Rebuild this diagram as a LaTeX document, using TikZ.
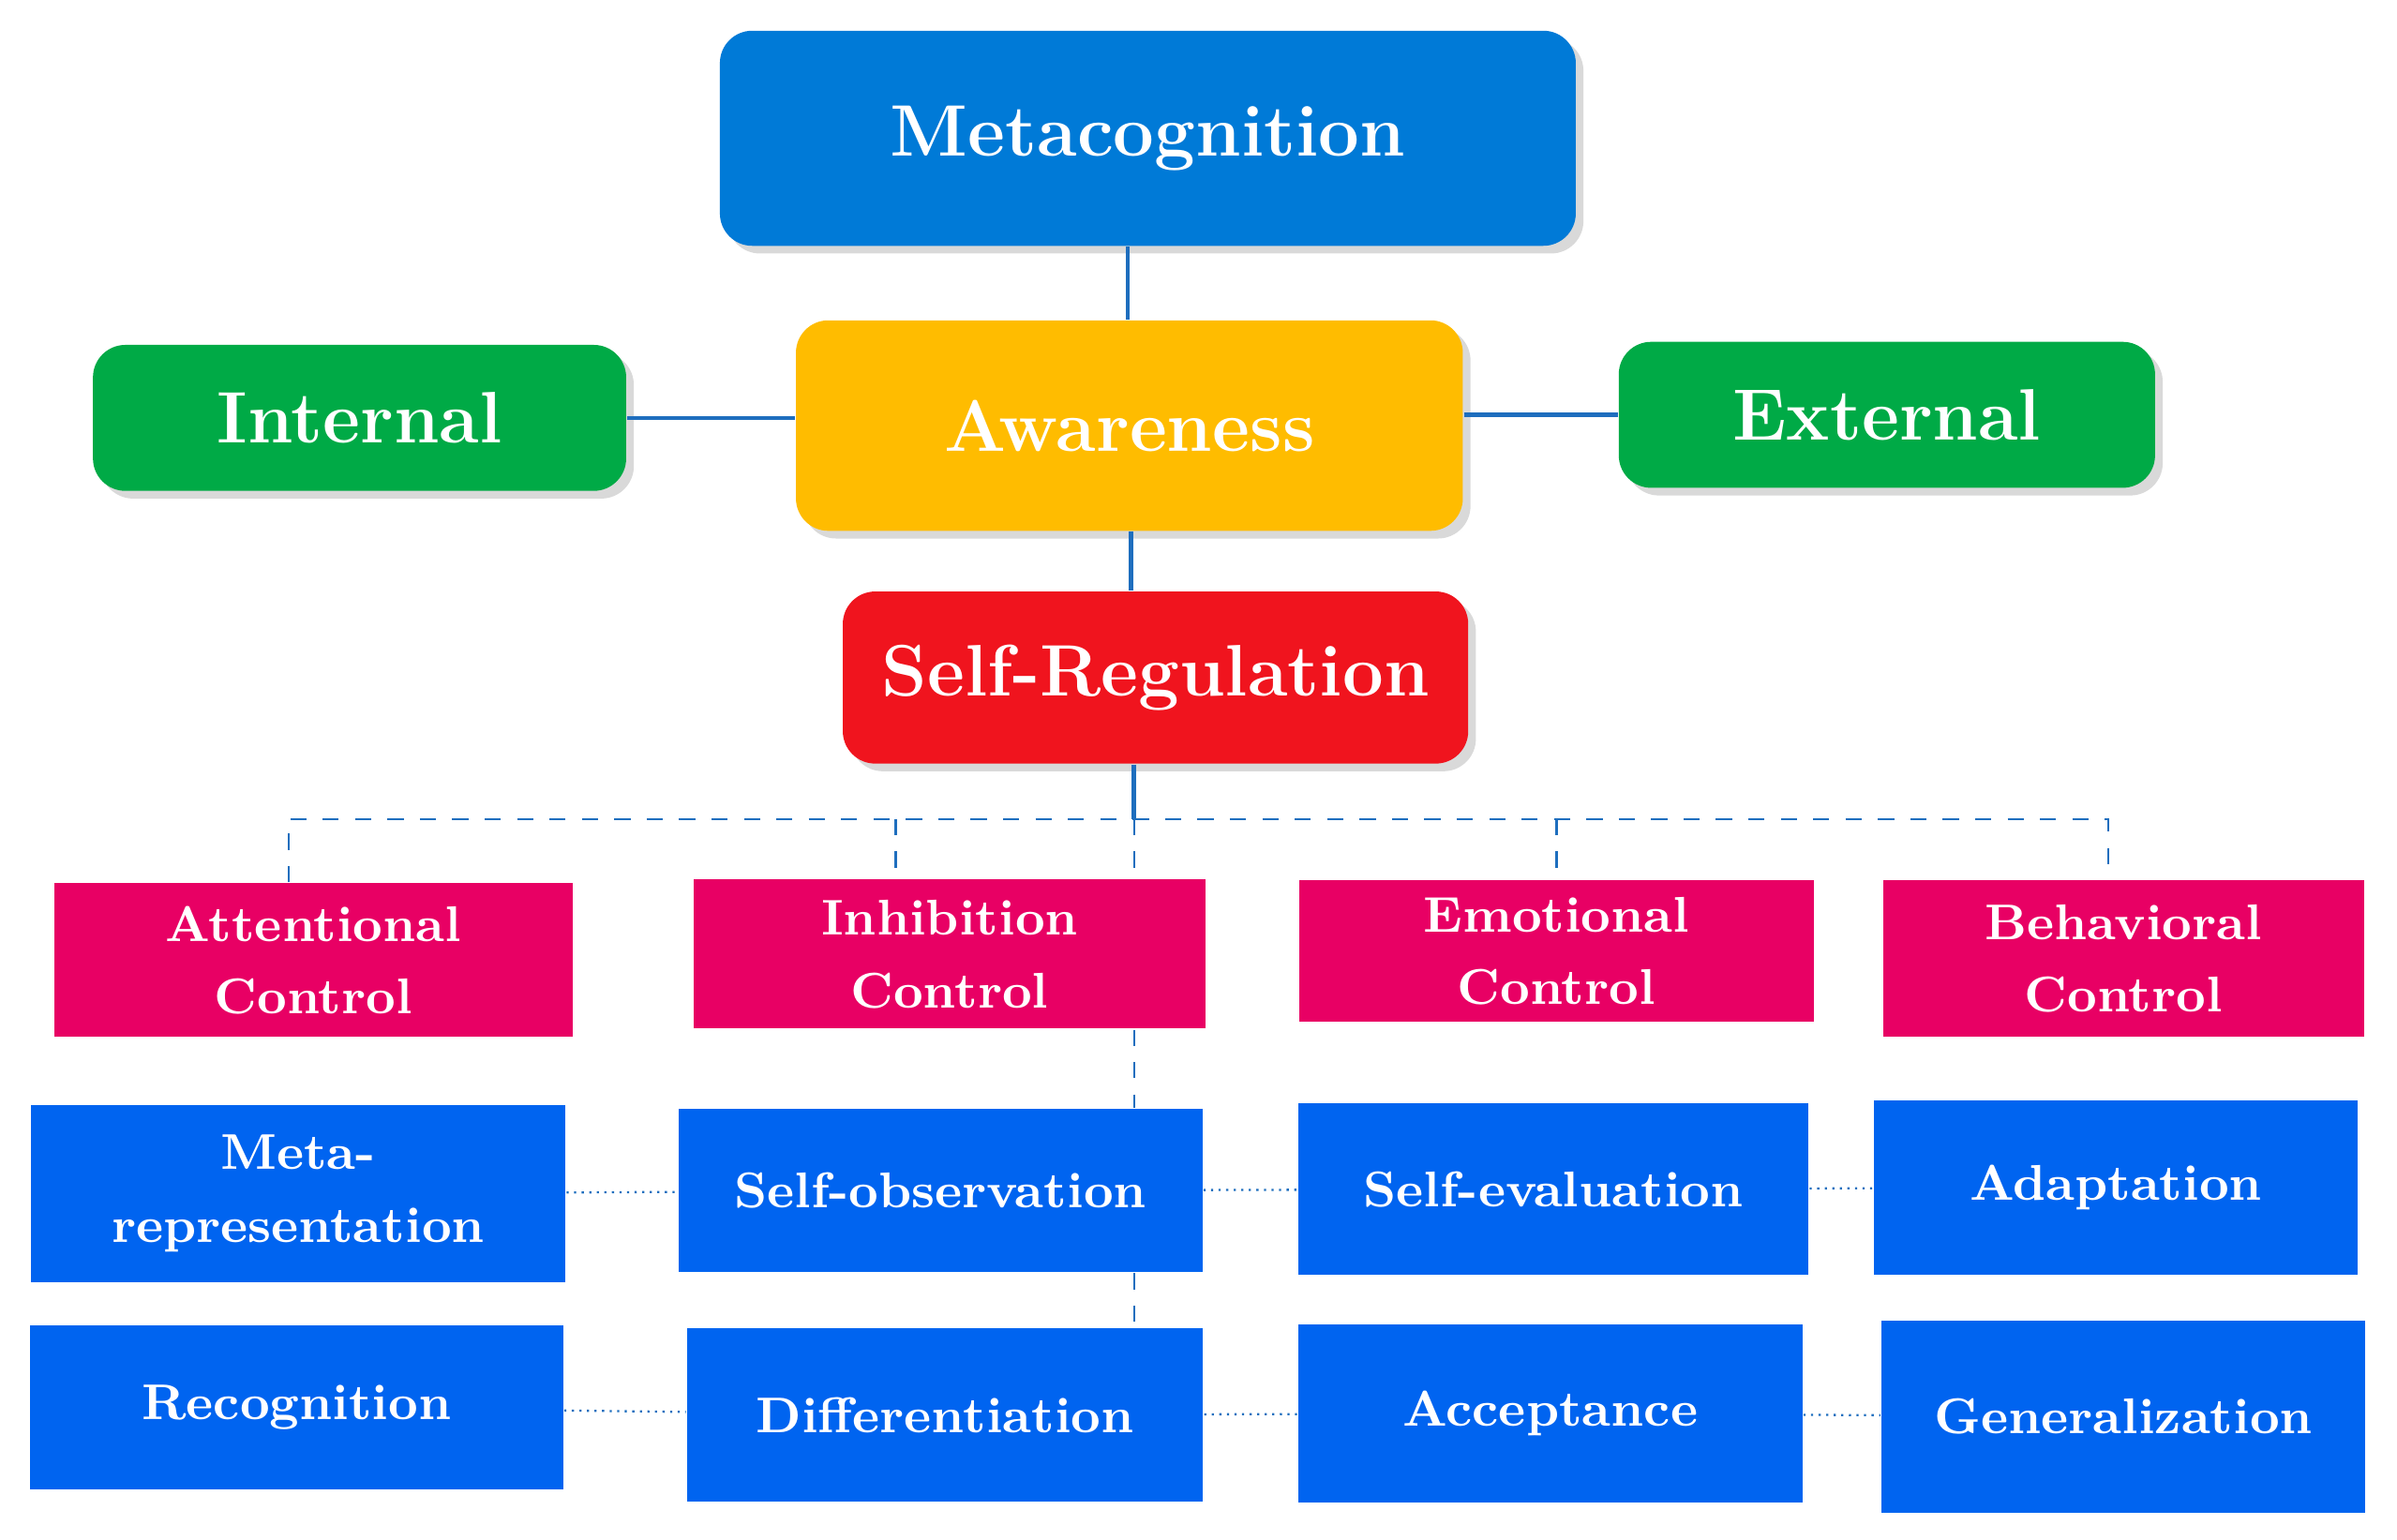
\documentclass[tikz,border=0pt]{standalone}
\usetikzlibrary{shadows}
\definecolor{metablue}{RGB}{0,122,215}
\definecolor{grn}{RGB}{0,170,70}
\definecolor{yel}{RGB}{255,188,0}
\definecolor{rd}{RGB}{240,20,30}
\definecolor{mag}{RGB}{232,0,100}
\definecolor{bl}{RGB}{0,100,240}
\definecolor{lnk}{RGB}{30,110,190}
\begin{document}
\begin{tikzpicture}[x=1cm,y=-1cm]
  \tikzset{box/.style = {draw=none, text=white, font=\bfseries, align=center, inner sep=0pt}}
  \tikzset{top/.style = {box, rounded corners=6pt, drop shadow={opacity=0.3, shadow xshift=0.5mm, shadow yshift=-0.5mm}}}
  \tikzset{ctl/.style = {box, fill=mag, font=\bfseries\fontsize{9.3}{13.5}\selectfont}}
  \tikzset{sub/.style = {box, fill=bl, font=\bfseries\fontsize{9.3}{13.5}\selectfont}}
  \tikzset{link/.style = {draw=lnk, thick}}
  \tikzset{treelink/.style = {draw=lnk, dashed}}
  \tikzset{rowlink/.style = {draw=lnk, densely dotted}}
  \useasboundingbox (0,0) rectangle (15.6,10.02);
  % upper boxes
  \node[top, fill=metablue, minimum width=5.57cm, minimum height=1.4cm, font=\bfseries\fontsize{13.5}{16}\selectfont] (meta) at (7.47,0.9) {Metacognition};
  \node[top, fill=yel, minimum width=4.34cm, minimum height=1.37cm, font=\bfseries\fontsize{13.5}{16}\selectfont] (aware) at (7.35,2.77) {Awareness};
  \node[top, fill=grn, minimum width=3.47cm, minimum height=0.95cm, font=\bfseries\fontsize{13.5}{16}\selectfont] (int) at (2.34,2.72) {Internal};
  \node[top, fill=grn, minimum width=3.49cm, minimum height=0.95cm, font=\bfseries\fontsize{13.5}{16}\selectfont] (ext) at (12.28,2.70) {External};
  \node[top, fill=rd, minimum width=4.07cm, minimum height=1.12cm, font=\bfseries\fontsize{13.5}{16}\selectfont] (self) at (7.52,4.41) {Self-Regulation};
  % control boxes
  \node[ctl, minimum width=3.37cm, minimum height=1.0cm] (att) at (2.04,6.25) {Attentional\\Control};
  \node[ctl, minimum width=3.33cm, minimum height=0.97cm] (inh) at (6.18,6.21) {Inhibition\\Control};
  \node[ctl, minimum width=3.35cm, minimum height=0.92cm] (emo) at (10.13,6.19) {Emotional\\Control};
  \node[ctl, minimum width=3.13cm, minimum height=1.02cm] (beh) at (13.82,6.24) {Behavioral\\Control};
  % sub boxes
  \node[sub, minimum width=3.48cm, minimum height=1.15cm] (mrep) at (1.94,7.77) {Meta-\\representation};
  \node[sub, minimum width=3.41cm, minimum height=1.06cm] (sobs) at (6.12,7.75) {Self-observation};
  \node[sub, minimum width=3.32cm, minimum height=1.12cm] (seval) at (10.11,7.74) {Self-evaluation};
  \node[sub, minimum width=3.15cm, minimum height=1.13cm] (adapt) at (13.77,7.73) {Adaptation};
  \node[sub, minimum width=3.47cm, minimum height=1.07cm] (recog) at (1.93,9.16) {Recognition};
  \node[sub, minimum width=3.36cm, minimum height=1.13cm] (diff) at (6.15,9.21) {Differentiation};
  \node[sub, minimum width=3.28cm, minimum height=1.16cm] (accept) at (10.09,9.20) {Acceptance};
  \node[sub, minimum width=3.15cm, minimum height=1.25cm] (gen) at (13.82,9.22) {Generalization};
  % solid links
  \draw[link] (meta.south -| 7.34,0) -- (aware.north -| 7.34,0);
  \draw[link] (int) -- (aware.west |- int);
  \draw[link] (aware.east |- ext) -- (ext);
  \draw[link] (aware.south -| 7.36,0) -- (self.north -| 7.36,0);
  \coordinate (hub) at (7.38,5.33);
  \draw[link] (self.south -| hub) -- (hub);
  % dashed tree
  \draw[treelink] (att.north -| 1.88,0) -- (1.88,5.33) -- (13.72,5.33) -- (beh.north -| 13.72,0);
  \draw[treelink] (5.83,5.33) -- (inh.north -| 5.83,0);
  \draw[treelink] (10.13,5.33) -- (emo.north);
  \draw[treelink] (hub) -- (inh.north -| hub);
  \draw[treelink] (inh.south -| hub) -- (sobs.north -| hub);
  \draw[treelink] (sobs.south -| hub) -- (diff.north -| hub);
  % dotted rows
  \draw[rowlink] (mrep) -- (sobs);
  \draw[rowlink] (sobs) -- (seval);
  \draw[rowlink] (seval) -- (adapt);
  \draw[rowlink] (recog) -- (diff);
  \draw[rowlink] (diff) -- (accept);
  \draw[rowlink] (accept) -- (gen);
\end{tikzpicture}
\end{document}
